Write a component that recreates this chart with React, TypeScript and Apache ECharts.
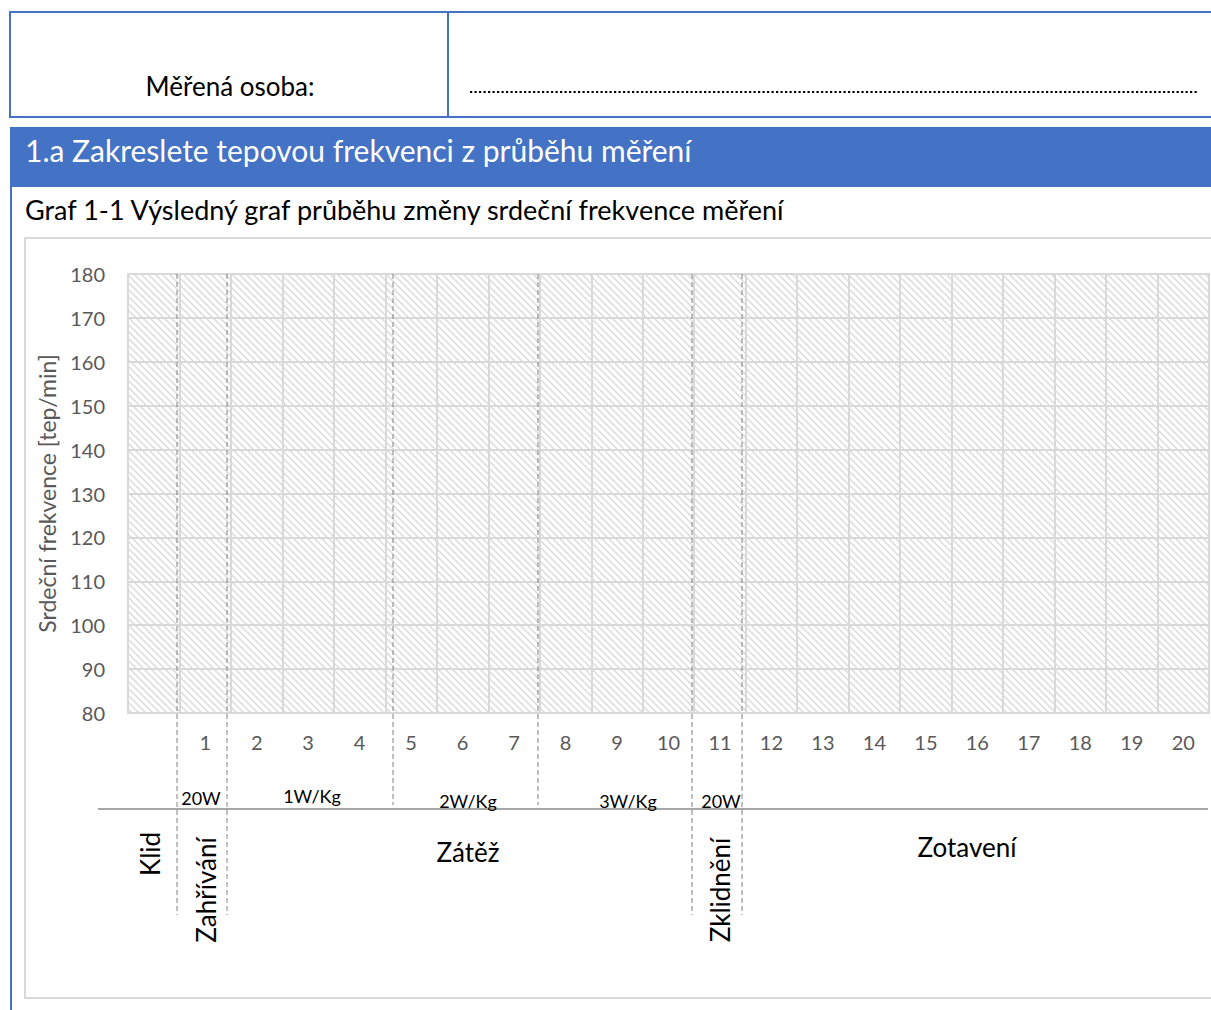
import React, { useEffect, useRef } from "react";
import * as echarts from "echarts";

// ---- data ----
const categories = ["", "1", "2", "3", "4", "5", "6", "7", "8", "9", "10", "11", "12", "13", "14", "15", "16", "17", "18", "19", "20"];
const yMin = 80;
const yMax = 180;
const yInterval = 10;
const heartRate: (number | null)[] = [];
const loadLabels = ["20W", "1W/Kg", "2W/Kg", "3W/Kg", "20W"];
const phaseLabels = ["Klid", "Zahřívání", "Zátěž", "Zklidnění", "Zotavení"];
const headerLabel = "Měřená osoba:";
const sectionTitle = "1.a Zakreslete tepovou frekvenci z průběhu měření";
const chartCaption = "Graf 1-1 Výsledný graf průběhu změny srdeční frekvence měření";
const yAxisTitle = "Srdeční frekvence [tep/min]";

const FONT = "Lato, 'Open Sans', sans-serif";
const BLUE = "#4472C4";
const GRID = "#D9D9D9";
const TICK = "#595959";
const DASH = "#808080";

const hatchSvg =
  "<svg xmlns='http://www.w3.org/2000/svg' width='7' height='7'>" +
  "<path d='M-7 0 L7 14 M-1 -1 L8 8 M0 -7 L14 7' stroke='#dadada' stroke-width='1.4' fill='none'/></svg>";
const hatchUrl = "data:image/svg+xml;charset=utf-8," + encodeURIComponent(hatchSvg);

function txt(text: string, x: number, y: number, size: number, opts: any = {}) {
  return {
    type: "text",
    x,
    y,
    rotation: opts.rotation || 0,
    z: 100,
    style: {
      text,
      fill: opts.fill || "#000",
      fontSize: size,
      fontFamily: FONT,
      textAlign: opts.align || "center",
      textVerticalAlign: "middle",
    },
  };
}

function dashed(x: number, y1: number, y2: number) {
  return {
    type: "line",
    z: 100,
    shape: { x1: x, y1, x2: x, y2 },
    style: { stroke: DASH, lineWidth: 1, lineDash: [5, 3] },
  };
}

export default function App() {
  const ref = useRef<HTMLDivElement>(null);
  useEffect(() => {
    if (!ref.current) return;
    const chart = echarts.init(ref.current, undefined, { renderer: "svg" });
    const option: any = {
      animation: false,
      backgroundColor: "#fff",
      grid: {
        left: 128,
        top: 274,
        width: 1081,
        height: 439,
        show: true,
        backgroundColor: { image: hatchUrl, repeat: "repeat", imageWidth: 7, imageHeight: 7 },
        borderColor: GRID,
        borderWidth: 2,
      },
      xAxis: {
        type: "category",
        data: categories,
        boundaryGap: true,
        axisLine: { show: true, lineStyle: { color: GRID, width: 2 } },
        axisTick: { show: false },
        axisLabel: { interval: 0, color: TICK, fontSize: 20, fontFamily: FONT, margin: 19 },
        splitLine: { show: true, interval: 0, lineStyle: { color: GRID, width: 2 } },
      },
      yAxis: {
        type: "value",
        min: yMin,
        max: yMax,
        interval: yInterval,
        name: yAxisTitle,
        nameLocation: "middle",
        nameRotate: 90,
        nameGap: 70,
        nameTextStyle: { color: TICK, fontSize: 23, fontFamily: FONT },
        axisLine: { show: false },
        axisTick: { show: false },
        axisLabel: { color: TICK, fontSize: 20, fontFamily: FONT, margin: 23 },
        splitLine: { show: true, lineStyle: { color: GRID, width: 2 } },
      },
      series: [
        {
          type: "line",
          data: heartRate,
          symbol: "none",
          lineStyle: { color: BLUE },
        },
      ],
      graphic: [
        // header table
        { type: "rect", shape: { x: 10, y: 12, width: 1210, height: 105 }, style: { fill: "none", stroke: BLUE, lineWidth: 2 } },
        { type: "line", shape: { x1: 448, y1: 12, x2: 448, y2: 117 }, style: { stroke: BLUE, lineWidth: 2 } },
        txt(headerLabel, 230, 86, 26),
        { type: "line", shape: { x1: 470, y1: 92, x2: 1197, y2: 92 }, style: { stroke: "#000", lineWidth: 2.2, lineDash: [2.2, 2.3] } },
        // banner
        { type: "rect", shape: { x: 10, y: 127, width: 1201, height: 60 }, style: { fill: BLUE } },
        txt(sectionTitle, 25, 150, 30, { align: "left", fill: "#fff" }),
        { type: "line", shape: { x1: 11, y1: 187, x2: 11, y2: 1010 }, style: { stroke: BLUE, lineWidth: 2 } },
        txt(chartCaption, 25, 209, 27, { align: "left" }),
        // chart frame
        { type: "rect", shape: { x: 25, y: 238, width: 1200, height: 760 }, style: { fill: "none", stroke: GRID, lineWidth: 2 } },
        // separator
        { type: "line", z: 100, shape: { x1: 98, y1: 809, x2: 1208, y2: 809 }, style: { stroke: "#A6A6A6", lineWidth: 2 } },
        // phase dividers
        dashed(177, 274, 915),
        dashed(227, 274, 915),
        dashed(393, 274, 805),
        dashed(538, 274, 805),
        dashed(692, 274, 915),
        dashed(742, 274, 915),
        // load labels
        txt(loadLabels[0], 201, 798, 18),
        txt(loadLabels[1], 312, 796, 18),
        txt(loadLabels[2], 468, 801, 18),
        txt(loadLabels[3], 628, 801, 18),
        txt(loadLabels[4], 721, 801, 18),
        // phase labels
        txt(phaseLabels[0], 150, 854, 26, { rotation: Math.PI / 2 }),
        txt(phaseLabels[1], 206, 890, 26, { rotation: Math.PI / 2 }),
        txt(phaseLabels[2], 468, 852, 26),
        txt(phaseLabels[3], 720, 890, 26, { rotation: Math.PI / 2 }),
        txt(phaseLabels[4], 967, 847, 26),
      ],
    };
    chart.setOption(option);
    return () => chart.dispose();
  }, []);
  return (
    <div
      ref={ref}
      style={{ position: "absolute", left: 0, top: 0, width: 1211, height: 1010, overflow: "hidden", background: "#fff" }}
    />
  );
}
